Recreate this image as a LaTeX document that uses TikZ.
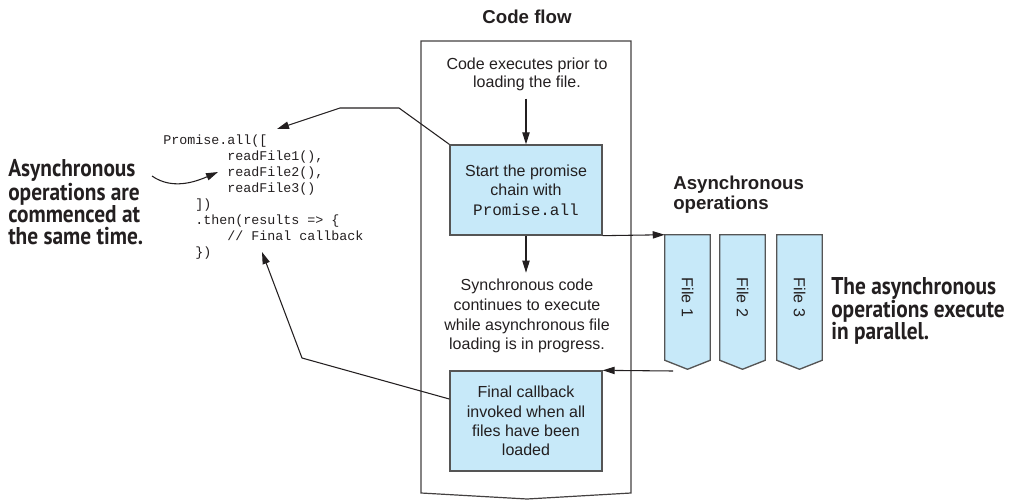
\documentclass[tikz,border=0pt]{standalone}
\usepackage{fontspec}
\setmainfont{Liberation Sans}
\setmonofont{Liberation Mono}
\newfontfamily\annfont[FakeStretch=0.88]{PT Sans}
\usetikzlibrary{arrows.meta,calc,backgrounds}
\definecolor{boxblue}{RGB}{199,233,249}
\definecolor{edgegray}{RGB}{85,85,85}
\definecolor{ink}{RGB}{35,31,32}

\begin{document}
\begin{tikzpicture}[x=0.75pt,y=-0.75pt,
  arr/.style={draw=ink, line width=0.8pt, -{Triangle[length=9pt,width=5.5pt]}},
  frame/.style={draw=ink!85, line width=0.9pt},
  flowbox/.style={draw=edgegray, line width=1pt, fill=boxblue, inner sep=0pt,
    minimum width=114pt, align=center, text=ink, font=\fontsize{12}{14.5}\selectfont},
  filebox/.style={draw=edgegray, line width=1pt, fill=boxblue},
  filetext/.style={inner sep=0pt, minimum width=33.75pt, minimum height=93.75pt,
    text=ink, font=\fontsize{12}{14}\selectfont},
  note/.style={align=center, text=ink, inner sep=0pt},
  head/.style={text=ink, inner sep=0pt, font=\bfseries\fontsize{14}{15}\selectfont},
  ann/.style={align=left, text=ink, inner sep=0pt, font=\annfont\bfseries\fontsize{18.2}{16.6}\selectfont},
  code/.style={align=left, text=ink, inner sep=0pt, font=\ttfamily\fontsize{10}{12}\selectfont}
]
\useasboundingbox (0,0) rectangle (1018,500);

% titles
\node[head] (flowtitle) at (527,17) {Code flow};
\node[head, align=left, anchor=west] (asynctitle) at (673,195) {Asynchronous\\operations};

% code flow frame
\draw[frame] (421,41) -- (631,41) -- (631,493) -- (527,499) -- (421,493) -- cycle;

% code flow contents
\node[note, font=\fontsize{12}{13.5}\selectfont] (prior) at (527,74) {Code executes prior to\\loading the file.};
\node[flowbox, minimum height=67.5pt] (start) at (526,190) {Start the promise\\chain with\\\texttt{Promise.all}};
\node[note, font=\fontsize{12}{14.8}\selectfont] (sync) at (527,316) {Synchronous code\\continues to execute\\while asynchronous file\\loading is in progress.};
\node[flowbox, minimum height=75pt] (final) at (526,421) {Final callback\\invoked when all\\files have been\\loaded};

\draw[arr] (prior.south -| start.north) ++(0,8) -- (start.north);
\draw[arr] (start.south) -- ++(0,37);

% asynchronous file operations
\node[filetext] (f1) at (687.5,297.5) {\rotatebox{-90}{File 1}};
\node[filetext] (f2) at (742.5,297.5) {\rotatebox{-90}{File 2}};
\node[filetext] (f3) at (799.5,297.5) {\rotatebox{-90}{File 3}};
\begin{scope}[on background layer]
  \foreach \f in {f1,f2,f3}
    \draw[filebox] (\f.north west) -- (\f.north east) -- (\f.south east)
      -- ($(\f.south)+(0,9)$) -- (\f.south west) -- cycle;
\end{scope}

\draw[arr] (start.south east) -- (f1.north west);
\coordinate (fileret) at (673,371);
\draw[arr] (fileret) -- (final.north east);

% source code
\node[code, anchor=north west] (src) at (163,135) {Promise.all([\\
\hspace*{4.8em}readFile1(),\\
\hspace*{4.8em}readFile2(),\\
\hspace*{4.8em}readFile3()\\
\hspace*{2.4em}])\\
\hspace*{2.4em}.then(results => \{\\
\hspace*{4.8em}// Final callback\\
\hspace*{2.4em}\})};

\coordinate (codetop) at (277,129);
\coordinate (codecb) at (262,252);
\draw[arr] (start.north west) -- (399,108) -- (340,108) -- (codetop);
\draw[arr] ($(final.west)+(0,-22)$) -- (302,358) -- (codecb);

% annotations
\node[ann, anchor=west] (annstart) at (8,202) {Asynchronous\\operations are\\commenced at\\the same time.};
\node[ann, anchor=west] (annpar) at (831,311) {The asynchronous\\operations execute\\in parallel.};

\coordinate (curvestart) at (152,176);
\coordinate (curveend) at (218,172);
\draw[arr] (curvestart) .. controls (172,190) and (195,182) .. (curveend);
\end{tikzpicture}
\end{document}
